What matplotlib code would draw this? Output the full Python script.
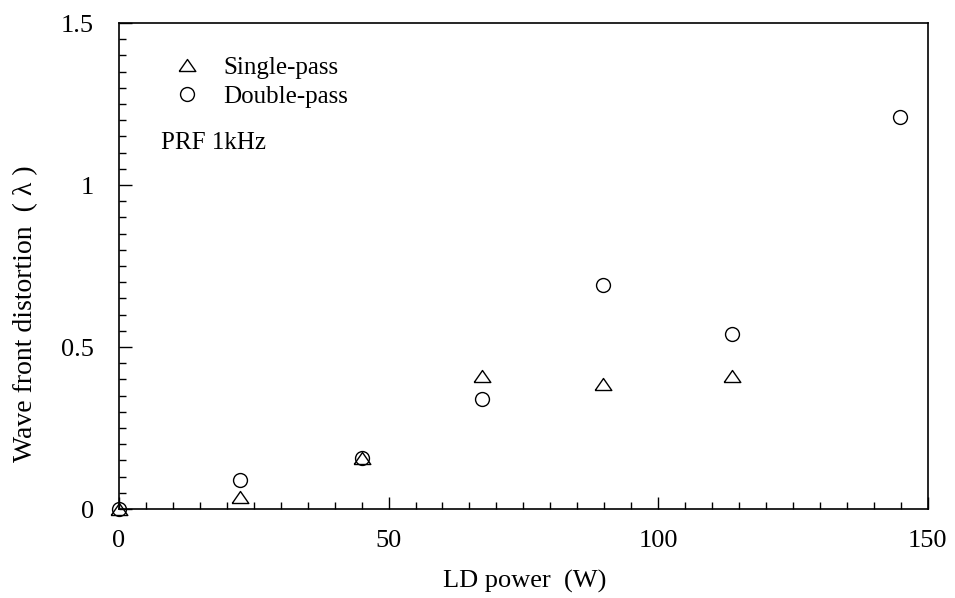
import matplotlib
matplotlib.use("Agg")
import matplotlib.pyplot as plt
from matplotlib.ticker import MultipleLocator

# --- data ---
single_power = [0, 22.5, 45, 67.3, 89.8, 113.7]
single_dist = [0, 0.037, 0.157, 0.41, 0.387, 0.41]

double_power = [0, 22.5, 45, 67.3, 89.8, 113.7, 144.8]
double_dist = [0, 0.089, 0.157, 0.341, 0.692, 0.541, 1.21]

plt.rcParams['font.family'] = ['Liberation Serif', 'DejaVu Serif']

fig = plt.figure(figsize=(9.55, 5.98), dpi=100)
ax = fig.add_axes([0.1246, 0.1488, 0.8468, 0.8127])

# wide, flat triangle like the original
tri = [(-1, -0.72), (1, -0.72), (0, 0.72), (-1, -0.72)]

ax.plot(single_power, single_dist, linestyle='none', marker=tri, markersize=12,
        markerfacecolor='none', markeredgecolor='black', markeredgewidth=1.0,
        clip_on=False, label='Single-pass')
ax.plot(double_power, double_dist, linestyle='none', marker='o', markersize=10,
        markerfacecolor='none', markeredgecolor='black', markeredgewidth=1.0,
        clip_on=False, label='Double-pass')

ax.set_xlim(0, 150)
ax.set_ylim(0, 1.5)
ax.xaxis.set_major_locator(MultipleLocator(50))
ax.xaxis.set_minor_locator(MultipleLocator(5))
ax.yaxis.set_minor_locator(MultipleLocator(0.05))
ax.set_yticks([0, 0.5, 1, 1.5])
ax.set_yticklabels(['0', '0.5', '1', '1.5'])

ax.tick_params(which='both', direction='in', top=False, right=False, width=1.0)
ax.tick_params(which='major', length=9)
ax.tick_params(which='minor', length=5)
ax.tick_params(axis='x', which='major', labelsize=19, pad=15)
ax.tick_params(axis='y', which='major', labelsize=19, pad=18)

for s in ax.spines.values():
    s.set_linewidth(1.2)

ax.set_xlabel('LD power  (W)', fontsize=19)
ax.set_ylabel('Wave front distortion  ( λ )', fontsize=20)
ax.xaxis.set_label_coords(0.502, -0.125)
ax.yaxis.set_label_coords(-0.1, 0.401)

ax.legend(loc='upper left', bbox_to_anchor=(0.0655, 0.932), frameon=False,
          fontsize=18, handletextpad=0.84, labelspacing=0.28, handlelength=1.2,
          borderpad=0, borderaxespad=0)
ax.text(0.052, 0.753, 'PRF 1kHz', transform=ax.transAxes, fontsize=18,
        va='center', ha='left')

fig.savefig('out.png', dpi=100)
